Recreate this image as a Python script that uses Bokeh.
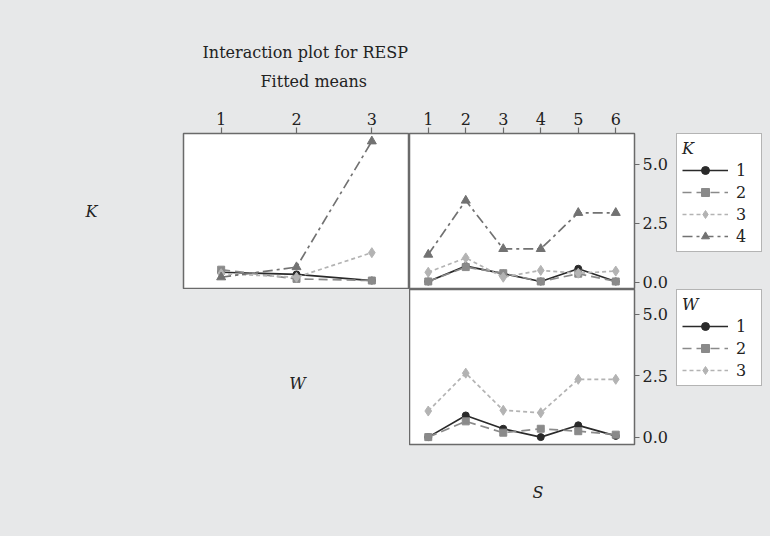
from bokeh.plotting import figure
from bokeh.models import (Range1d, FixedTicker, Legend, LegendItem, Label,
                          PrintfTickFormatter, LinearAxis, Title)
from bokeh.layouts import column, row
from bokeh.embed import file_html
from bokeh.resources import INLINE

# ---------------- data ----------------
W_levels = [1, 2, 3]
S_levels = [1, 2, 3, 4, 5, 6]
level_labels = ["1", "2", "3", "4"]

# K traces vs W (top-left panel)
K1_by_W = [0.42, 0.33, 0.07]
K2_by_W = [0.53, 0.14, 0.07]
K3_by_W = [0.36, 0.21, 1.25]
K4_by_W = [0.21, 0.64, 5.97]

# K traces vs S (top-right panel)
K1_by_S = [0.03, 0.68, 0.36, 0.03, 0.57, 0.03]
K2_by_S = [0.03, 0.64, 0.38, 0.03, 0.36, 0.03]
K3_by_S = [0.42, 1.03, 0.21, 0.50, 0.38, 0.47]
K4_by_S = [1.17, 3.46, 1.41, 1.41, 2.94, 2.94]

# W traces vs S (bottom-right panel)
W1_by_S = [0.00, 0.88, 0.34, 0.00, 0.48, 0.05]
W2_by_S = [0.00, 0.64, 0.18, 0.34, 0.24, 0.10]
W3_by_S = [1.06, 2.60, 1.09, 0.99, 2.35, 2.35]

y_ticks = [0.0, 2.5, 5.0]

# ---------------- styles ----------------
BG = "#e7e8e9"
FONT = "DejaVu Serif"
FS = "16px"
TXT = "#222222"
OUT = "#6a6a6a"
styles = [
    dict(color="#2a2a2a", dash="solid", marker="circle", size=7),
    dict(color="#8a8a8a", dash="9 5", marker="square", size=7),
    dict(color="#b3b3b3", dash="4 3", marker="diamond", size=10),
    dict(color="#727272", dash="10 4 3 4", marker="triangle", size=9),
]

HAS_ORIENT = "axis_label_orientation" in LinearAxis.properties()


def make_fig(xr, yr, fw, fh, left, right, top, bottom, panel=True):
    p = figure(title=None, frame_width=fw, frame_height=fh, x_range=xr,
               y_range=yr, output_backend="svg", toolbar_location=None,
               tools="", x_axis_location=None, y_axis_location=None,
               min_border_left=left, min_border_right=right,
               min_border_top=top, min_border_bottom=bottom)
    p.border_fill_color = BG
    p.grid.visible = False
    if panel:
        p.background_fill_color = "white"
        p.outline_line_color = OUT
        p.outline_line_width = 1.5
    else:
        p.background_fill_color = BG
        p.outline_line_color = None
    return p


def style_axis(ax):
    ax.major_label_text_font = FONT
    ax.major_label_text_font_size = FS
    ax.major_label_text_color = TXT
    ax.axis_line_color = None
    ax.major_tick_line_color = OUT
    ax.major_tick_line_width = 1.2
    ax.major_tick_in = 0
    ax.major_tick_out = 6
    ax.minor_tick_line_color = None
    ax.axis_label_text_font = FONT
    ax.axis_label_text_font_size = FS
    ax.axis_label_text_font_style = "italic"
    ax.axis_label_text_color = TXT


def label_axis(text, standoff):
    ax = LinearAxis(ticker=FixedTicker(ticks=[]), axis_label=text)
    style_axis(ax)
    ax.major_tick_out = 0
    ax.axis_label_standoff = standoff
    if HAS_ORIENT:
        ax.axis_label_orientation = "horizontal"
    return ax


def text_title(text, offset, standoff, italic=False):
    return Title(text=text, align="left", offset=offset, text_font=FONT,
                 text_font_size=FS,
                 text_font_style="italic" if italic else "normal",
                 text_color=TXT, standoff=standoff)


def add_traces(p, xs, series):
    rends = []
    for ys, st in zip(series, styles):
        l = p.line(xs, ys, line_color=st["color"], line_width=1.7,
                   line_dash=st["dash"])
        s = p.scatter(xs, ys, marker=st["marker"], size=st["size"],
                      fill_color=st["color"], line_color=st["color"])
        rends.append((l, s))
    return rends


def add_label(p, x, y, text, italic=False):
    p.add_layout(Label(x=x, y=y, text=text, text_font=FONT, text_font_size=FS,
                       text_font_style="italic" if italic else "normal",
                       text_color=TXT, text_align="center",
                       text_baseline="middle"))


def legend_fig(fh, top, bottom, xs, series, labels, title):
    # ranges lie away from the data so only the legend box is visible
    x0, y0 = -3.0, -3.0
    p = make_fig(Range1d(x0, x0 + 1), Range1d(y0, y0 + 1), 86, fh, 0, 8,
                 top, bottom, panel=False)
    rends = add_traces(p, xs, series)
    items = [LegendItem(label=lab, renderers=[l, s])
             for lab, (l, s) in zip(labels, rends)]
    lg = Legend(items=items, title=title, location="top_left", margin=0,
                padding=5, glyph_width=46, glyph_height=20, label_height=20,
                label_width=20, label_standoff=8, spacing=2,
                label_text_font=FONT, label_text_font_size=FS,
                label_text_color=TXT,
                title_text_font=FONT, title_text_font_size=FS,
                title_text_font_style="italic", title_text_color=TXT,
                title_standoff=2,
                border_line_color=OUT, border_line_width=1.5,
                background_fill_color="white", background_fill_alpha=1.0)
    p.add_layout(lg)
    return p


# ---------------- top-left: K vs W ----------------
ylo_t, yhi_t = -0.31, 6.30
tl = make_fig(Range1d(0.5, 3.5), Range1d(ylo_t, yhi_t), 226, 156,
              183, 0, 133, 0)
ax = LinearAxis(ticker=FixedTicker(ticks=W_levels))
style_axis(ax)
ax.major_label_standoff = 3
tl.add_layout(ax, "above")
tl.add_layout(label_axis("K", 86), "left")
tl.add_layout(text_title("Fitted means", 77, 38), "above")
tl.add_layout(text_title("Interaction plot for RESP", 19, -22), "above")
add_traces(tl, W_levels, [K1_by_W, K2_by_W, K3_by_W, K4_by_W])

# ---------------- top-right: K vs S ----------------
tr = make_fig(Range1d(0.5, 6.5), Range1d(ylo_t, yhi_t), 225, 156,
              0, 42, 133, 0)
ax = LinearAxis(ticker=FixedTicker(ticks=S_levels))
style_axis(ax)
ax.major_label_standoff = 3
tr.add_layout(ax, "above")
ay = LinearAxis(ticker=FixedTicker(ticks=y_ticks),
                formatter=PrintfTickFormatter(format="%.1f"))
style_axis(ay)
ay.major_tick_out = 5
ay.major_label_standoff = 3
tr.add_layout(ay, "right")
add_traces(tr, S_levels, [K1_by_S, K2_by_S, K3_by_S, K4_by_S])

legk = legend_fig(156, 133, 0, S_levels, [K1_by_S, K2_by_S, K3_by_S, K4_by_S],
                  level_labels, "K")

# ---------------- bottom-left: empty with W label ----------------
bl = make_fig(Range1d(0, 1), Range1d(0, 1), 226, 155, 183, 0, 0, 90,
              panel=False)
add_label(bl, (297 - 183) / 226, (444 - 383) / 155, "W", italic=True)

# ---------------- bottom-right: W vs S ----------------
ylo_b, yhi_b = -0.30, 6.0
br = make_fig(Range1d(0.5, 6.5), Range1d(ylo_b, yhi_b), 225, 155,
              0, 42, 0, 90)
ay = LinearAxis(ticker=FixedTicker(ticks=y_ticks),
                formatter=PrintfTickFormatter(format="%.1f"))
style_axis(ay)
ay.major_tick_out = 5
ay.major_label_standoff = 3
br.add_layout(ay, "right")
br.add_layout(text_title("S", 123, 72, italic=True), "below")
add_traces(br, S_levels, [W1_by_S, W2_by_S, W3_by_S])

legw = legend_fig(155, 0, 90, S_levels, [W1_by_S, W2_by_S, W3_by_S],
                  level_labels[:3], "W")

layout = column(row(tl, tr, legk), row(bl, br, legw),
                styles={"background-color": BG})

open("out.html", "w").write(file_html(layout, INLINE))
